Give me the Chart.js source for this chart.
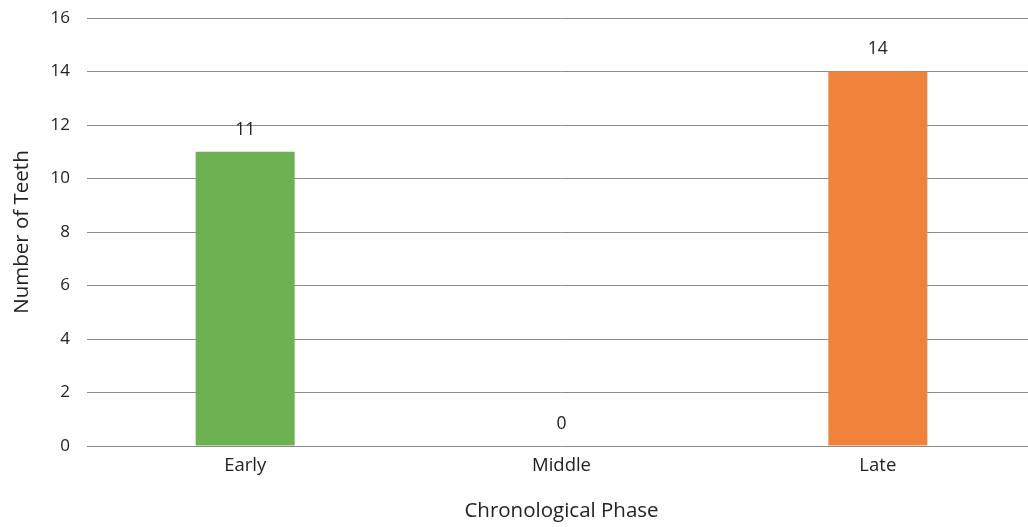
<!DOCTYPE html>
<html><head><meta charset="utf-8">
<script src="https://cdn.jsdelivr.net/npm/chart.js@4/dist/chart.umd.min.js"></script>
<style>
html,body{margin:0;padding:0;background:#fff;overflow:hidden;}
#wrap{width:1036px;height:527px;position:relative;}
</style></head><body>
<div id="wrap"><canvas id="c"></canvas></div>
<script>
const categories = ["Early", "Middle", "Late"];
const teethCounts = [11, 0, 14];
const barColors = ["#6DB152", "#6DB152", "#F0833C"];
const yTitle = "Number of Teeth";
const xTitle = "Chronological Phase";

const FONT = "'Open Sans', 'Noto Sans', sans-serif";

const labelPlugin = {
  id: 'valueLabels',
  afterDatasetsDraw(chart) {
    const ctx = chart.ctx;
    const meta = chart.getDatasetMeta(0);
    ctx.save();
    ctx.font = "17.5px " + FONT;
    ctx.fillStyle = "#222";
    ctx.textAlign = "center";
    ctx.textBaseline = "middle";
    meta.data.forEach((el, i) => {
      ctx.fillText(String(teethCounts[i]), el.x, el.y - 22);
    });
    ctx.restore();
  }
};

new Chart(document.getElementById('c'), {
  type: 'bar',
  data: {
    labels: categories,
    datasets: [{
      data: teethCounts,
      backgroundColor: barColors,
      borderWidth: 0,
      categoryPercentage: 1,
      barPercentage: 0.313
    }]
  },
  options: {
    responsive: true,
    maintainAspectRatio: false,
    animation: false,
    layout: { padding: { top: 18, right: 0, left: 0, bottom: 0 } },
    plugins: { legend: { display: false }, tooltip: { enabled: false } },
    scales: {
      x: {
        grid: { display: false, drawTicks: false },
        border: { display: false },
        ticks: { color: "#222", font: { family: FONT, size: 18.5 }, padding: 9 },
        title: { display: true, text: xTitle, color: "#222", font: { family: FONT, size: 20.5 }, padding: { top: 0, bottom: 4 } },
        afterFit(s) { s.height = 81; s.paddingLeft = 0; s.paddingRight = 0; }
      },
      y: {
        min: 0, max: 16,
        ticks: { stepSize: 2, color: "#222", font: { family: FONT, size: 17 }, padding: 17 },
        grid: { color: "#8a8a8a", lineWidth: 1, drawTicks: false },
        border: { display: false },
        title: { display: true, text: yTitle, color: "#222", font: { family: FONT, size: 20.5 }, padding: { top: 10, bottom: 0 } },
        afterFit(s) { s.width = 87; s.paddingTop = 0; s.paddingBottom = 0; }
      }
    }
  },
  plugins: [labelPlugin]
});
</script>
</body></html>
